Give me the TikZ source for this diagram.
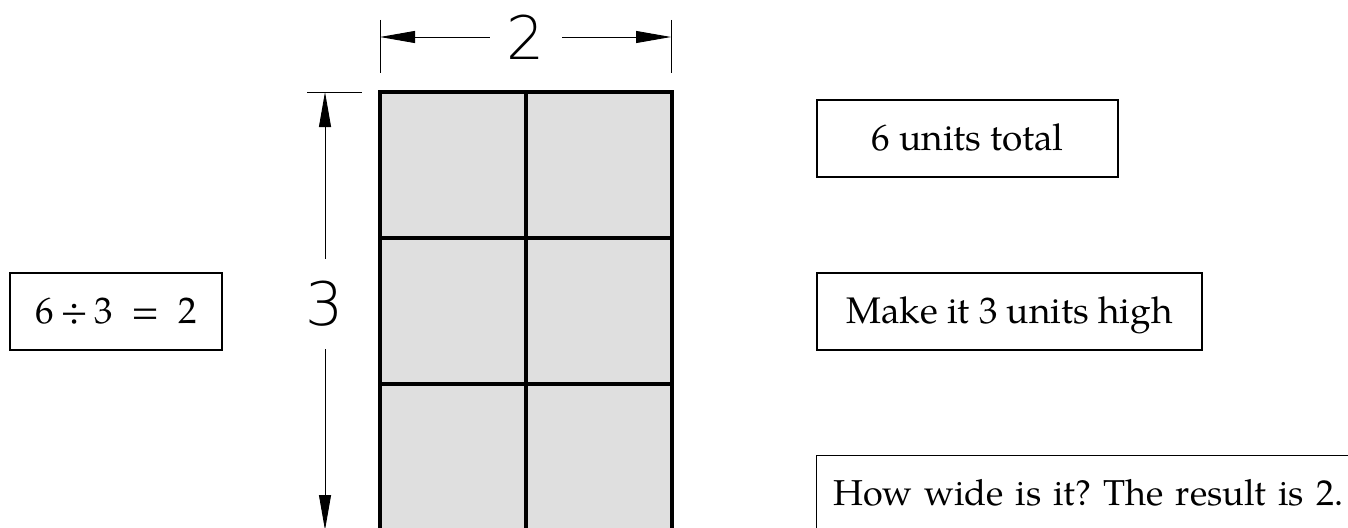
\documentclass[tikz,border=0pt]{standalone}
\usepackage{fontspec}
\setmainfont{TeX Gyre Pagella}
\IfFontExistsTF{DejaVu Sans ExtraLight}
  {\newfontfamily\dimfont{DejaVu Sans ExtraLight}}
  {\newfontfamily\dimfont{DejaVu Sans}}
\usetikzlibrary{arrows.meta}
\definecolor{cellgray}{HTML}{DFDFDF}
\frenchspacing
\tikzset{
  cell/.style={draw=black, fill=cellgray, line width=4pt, minimum width=146pt, minimum height=146pt, inner sep=0pt},
  dimline/.style={line width=0.9pt, -{Triangle[length=35pt,width=12pt]}},
  extline/.style={line width=0.9pt},
  dimlabel/.style={font=\dimfont\fontsize{60}{60}\selectfont, inner sep=0pt},
  textbox/.style={draw=black, line width=1.2pt, minimum height=77pt, inner sep=0pt,
    font=\fontsize{37}{44}\selectfont, text height=30pt, text depth=7pt},
}
\begin{document}
\begin{tikzpicture}[x=1pt,y=-1pt]
\useasboundingbox (0,0) rectangle (1348,527);
% grid cells
\node[cell] (c11) at (453,165) {};
\node[cell] (c12) at (598.5,165) {};
\node[cell] (c21) at (453,311) {};
\node[cell] (c22) at (598.5,311) {};
\node[cell] (c31) at (453,457) {};
\node[cell] (c32) at (598.5,457) {};
% horizontal dimension
\coordinate (eL1) at (380,20);
\coordinate (eL2) at (380,73);
\coordinate (eR1) at (671,20);
\coordinate (eR2) at (671,73);
\coordinate (tL) at (380,37);
\coordinate (tR) at (671,37);
\draw[extline] (eL1) -- (eL2);
\draw[extline] (eR1) -- (eR2);
\node[dimlabel, minimum width=72pt] (w) at (526,37) {2};
\draw[dimline] (w.west) -- (tL);
\draw[dimline] (w.east) -- (tR);
% vertical dimension
\coordinate (eT1) at (307,92);
\coordinate (eT2) at (362,92);
\coordinate (tT) at (325,92);
\coordinate (tB) at (325,530);
\draw[extline] (eT1) -- (eT2);
\node[dimlabel, minimum height=90pt] (h) at (325,304) {3};
\draw[dimline] (h.north) -- (tT);
\draw[dimline] (h.south) -- (tB);
% text boxes
\node[textbox, minimum width=212pt] (eq) at (116,311.5) {6\,÷\,3\ \ =\ \ 2};
\node[textbox, minimum width=301pt] (tot) at (967.5,138.5) {6 units total};
\node[textbox, minimum width=385pt] (high) at (1009.5,311.5) {Make it 3 units high};
\node[textbox, anchor=north west, text width=560pt, inner xsep=17pt, align=left, font=\fontsize{36}{44}\selectfont] (wide) at (816,455) {How wide is it? The result is 2.};
\end{tikzpicture}
\end{document}
